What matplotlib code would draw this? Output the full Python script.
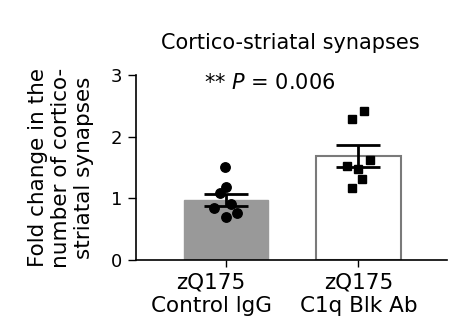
import matplotlib.pyplot as plt
import matplotlib.transforms as mtransforms

groups = ['zQ175\nControl lgG', 'zQ175\nC1q Blk Ab']
means = [0.97, 1.69]
sems = [0.10, 0.18]
control_pts = [1.51, 1.18, 1.08, 0.91, 0.84, 0.77, 0.70]
treated_pts = [2.41, 2.29, 1.62, 1.52, 1.47, 1.31, 1.17]
control_jitter = [-0.01, 0.0, -0.045, 0.04, -0.09, 0.085, 0.0]
treated_jitter = [0.04, -0.045, 0.085, -0.085, 0.0, 0.03, -0.045]

plt.rcParams['font.family'] = ['DejaVu Sans']

fig = plt.figure(figsize=(4.71, 3.31), dpi=100)
ax = fig.add_axes([0.289, 0.2145, 0.66, 0.5585])

x = [0, 1]
ax.bar(x[0], means[0], width=0.64, color='#999999', edgecolor='#999999', zorder=1)
ax.bar(x[1], means[1], width=0.64, color='white', edgecolor='#7a7a7a', linewidth=1.5, zorder=1)

ax.errorbar(x, means, yerr=sems, fmt='none', ecolor='black', elinewidth=2,
            capsize=16, capthick=2, zorder=3)

ax.plot([x[0] + j for j in control_jitter], control_pts, 'o', color='black',
        markersize=6.8, zorder=4)
ax.plot([x[1] + j for j in treated_jitter], treated_pts, 's', color='black',
        markersize=6, zorder=4)

ax.set_xlim(-0.68, 1.67)
ax.set_ylim(0, 3)
ax.set_yticks([0, 1, 2, 3])
ax.set_xticks(x)
ax.set_xticklabels(groups, fontsize=15.5, linespacing=1.2)
ax.tick_params(axis='y', labelsize=13, length=6, width=1, pad=4)
ax.tick_params(axis='x', length=5, width=1, pad=4)
ax.spines['right'].set_visible(False)
ax.spines['top'].set_visible(False)
ax.spines['left'].set_linewidth(1.2)
ax.spines['bottom'].set_linewidth(1.2)

# first group label sits a little left of its tick in the original
lbl = ax.get_xticklabels()[0]
lbl.set_transform(lbl.get_transform() + mtransforms.ScaledTranslation(-0.15, 0, fig.dpi_scale_trans))

ax.set_ylabel('Fold change in the\nnumber of cortico-\nstriatal synapses', fontsize=15.5,
              linespacing=1.2, labelpad=12)

fig.text(0.616, 0.87, 'Cortico-striatal synapses', ha='center', va='center', fontsize=15)
ax.text(0.33, 2.87, '** $\\it{P}$ = 0.006', ha='center', va='center', fontsize=15)

fig.savefig('out.png', dpi=100)
